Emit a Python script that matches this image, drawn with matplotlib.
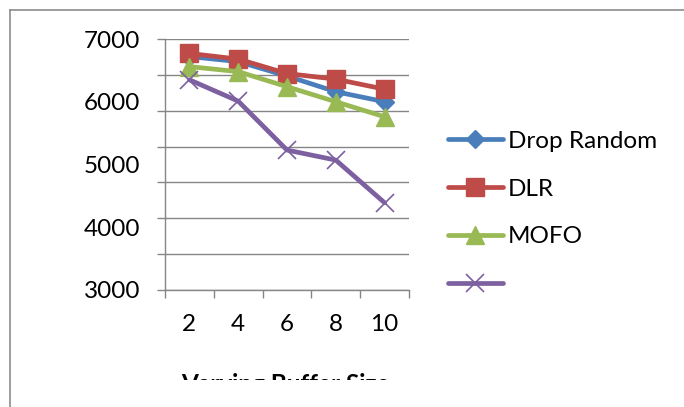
import numpy as np
import matplotlib.pyplot as plt
from matplotlib.lines import Line2D
from matplotlib.patches import Rectangle

# data
buffer_size = ['2', '4', '6', '8', '10']
drop_random = [6720, 6640, 6410, 6160, 6000]
dlr = [6770, 6680, 6450, 6360, 6200]
mofo = [6560, 6480, 6240, 6000, 5760]
fourth = [6350, 6010, 5230, 5070, 4390]

series_labels = ['Drop Random', 'DLR', 'MOFO', '']
y_labels = [3000, 4000, 5000, 6000, 7000]

plt.rcParams['font.family'] = ['Lato', 'DejaVu Sans']

W, H = 684, 407
fig = plt.figure(figsize=(W / 100, H / 100), dpi=100)
fig.patch.set_facecolor('white')

def fx(px):
    return px / W

def fy(py):
    return (H - py) / H

ax = fig.add_axes([fx(165), fy(290), fx(409) - fx(165), fy(39) - fy(290)])
ax.xaxis.remove_overlapping_locs = False
ax.yaxis.remove_overlapping_locs = False

grey = '#868686'
fs = 17.5
x = np.arange(len(buffer_size))
styles = [
    dict(color='#4A7EBB', marker='D', markersize=9.5),
    dict(color='#BE4B48', marker='s', markersize=13),
    dict(color='#98B954', marker='^', markersize=13),
    dict(color='#7D60A0', marker='x', markersize=13, markeredgewidth=1.2),
]
handles = []
for vals, st in zip([drop_random, dlr, mofo, fourth], styles):
    line, = ax.plot(x, vals, lw=3.4, solid_capstyle='round', zorder=3, **st)
    handles.append(line)

ax.set_xlim(-0.5, len(buffer_size) - 0.5)
ax.set_ylim(3000, 7000)

# gridlines: 7 intervals, labels every 1000
ax.set_yticks(np.linspace(3000, 7000, 8))
ax.set_yticklabels([])
ax.set_yticks(y_labels, minor=True)
ax.set_yticklabels([str(v) for v in y_labels], minor=True, fontsize=fs)
ax.tick_params(axis='y', which='major', direction='out', length=6, color=grey, width=1)
ax.tick_params(axis='y', which='minor', length=0, pad=18)
ax.yaxis.grid(True, which='major', color=grey, lw=1)

ax.set_xticks(np.arange(len(buffer_size) + 1) - 0.5)
ax.set_xticklabels([])
ax.set_xticks(x, minor=True)
ax.set_xticklabels(buffer_size, minor=True, fontsize=fs)
ax.tick_params(axis='x', which='major', direction='out', length=6, color=grey, width=1)
ax.tick_params(axis='x', which='minor', length=0, pad=17)

for side in ['top', 'right']:
    ax.spines[side].set_visible(False)
for side in ['left', 'bottom']:
    ax.spines[side].set_color(grey)
    ax.spines[side].set_linewidth(1)

fig.text(fx(285.5), fy(392), 'Varying Buffer Size', ha='center', va='baseline',
         fontsize=fs, fontweight='bold')
# the label is cut off in the original
fig.patches.append(Rectangle((0, 0), 1, fy(380), transform=fig.transFigure,
                             facecolor='white', edgecolor='none', zorder=5))

# outer chart border
fig.add_artist(Line2D([fx(10), fx(10)], [fy(10), 0], color='#8c8c8c', lw=1.2, zorder=6))
fig.add_artist(Line2D([fx(10), 1], [fy(10), fy(10)], color='#8c8c8c', lw=1.2, zorder=6))

fig.legend(handles, series_labels, loc='center left',
           bbox_to_anchor=(fx(448), fy(213)), frameon=False, fontsize=fs,
           handlelength=2.25, handletextpad=0.2, labelspacing=1.1,
           borderpad=0, borderaxespad=0)

fig.savefig('out.png', dpi=100)
